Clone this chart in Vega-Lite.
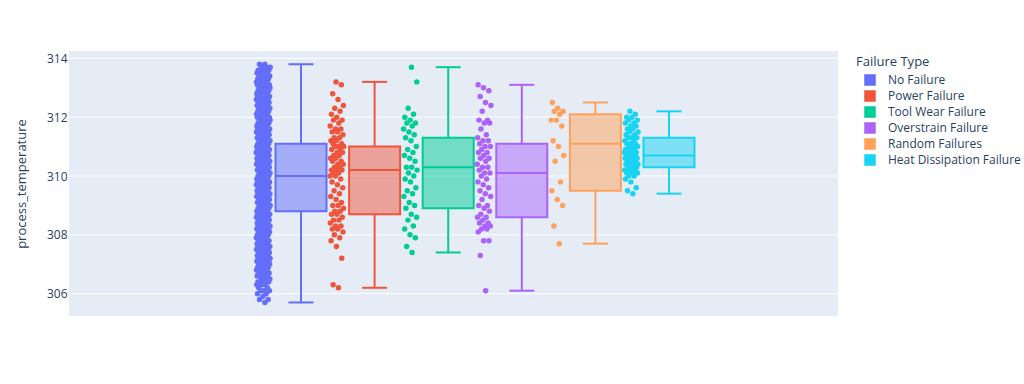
{
"$schema":"https://vega.github.io/schema/vega-lite/v6.json",
"width":769,"height":265,"autosize":"none",
"padding":{"left":69,"top":51,"right":186,"bottom":68},
"background":"white",
"config":{"view":{"fill":"#E5ECF6","stroke":null},"font":"Open Sans",
"axis":{"labelColor":"#2a3f5f","titleColor":"#2a3f5f","labelFontSize":12,"titleFontSize":13,"titleFontWeight":"normal"},
"legend":{"labelColor":"#2a3f5f","titleColor":"#2a3f5f","labelFontSize":12,"titleFontSize":13,"titleFontWeight":"normal"}},
"datasets":{
"grid":[{"tick":306},{"tick":308},{"tick":310},{"tick":312},{"tick":314}],
"box":[
{"type":"No Failure","lower":305.7,"q1":308.8,"median":310.0,"q3":311.1,"upper":313.8},
{"type":"Power Failure","lower":306.2,"q1":308.7,"median":310.2,"q3":311.0,"upper":313.2},
{"type":"Tool Wear Failure","lower":307.4,"q1":308.9,"median":310.3,"q3":311.3,"upper":313.7},
{"type":"Overstrain Failure","lower":306.1,"q1":308.6,"median":310.1,"q3":311.1,"upper":313.1},
{"type":"Random Failures","lower":307.7,"q1":309.5,"median":311.1,"q3":312.1,"upper":312.5},
{"type":"Heat Dissipation Failure","lower":309.4,"q1":310.3,"median":310.7,"q3":311.3,"upper":312.2}
],
"pts":[
{"type":"No Failure","temp":305.7},{"type":"No Failure","temp":305.8},{"type":"No Failure","temp":305.9},{"type":"No Failure","temp":306.0},{"type":"No Failure","temp":306.1},{"type":"No Failure","temp":306.2},{"type":"No Failure","temp":306.3},{"type":"No Failure","temp":306.4},{"type":"No Failure","temp":306.5},{"type":"No Failure","temp":306.6},{"type":"No Failure","temp":306.7},{"type":"No Failure","temp":306.8},{"type":"No Failure","temp":306.9},{"type":"No Failure","temp":307.0},{"type":"No Failure","temp":307.1},{"type":"No Failure","temp":307.2},{"type":"No Failure","temp":307.3},{"type":"No Failure","temp":307.4},{"type":"No Failure","temp":307.5},{"type":"No Failure","temp":307.6},{"type":"No Failure","temp":307.7},{"type":"No Failure","temp":307.8},{"type":"No Failure","temp":307.9},{"type":"No Failure","temp":308.0},{"type":"No Failure","temp":308.1},{"type":"No Failure","temp":308.2},{"type":"No Failure","temp":308.3},{"type":"No Failure","temp":308.4},{"type":"No Failure","temp":308.5},{"type":"No Failure","temp":308.6},{"type":"No Failure","temp":308.7},{"type":"No Failure","temp":308.8},{"type":"No Failure","temp":308.9},{"type":"No Failure","temp":309.0},{"type":"No Failure","temp":309.1},{"type":"No Failure","temp":309.2},{"type":"No Failure","temp":309.3},{"type":"No Failure","temp":309.4},{"type":"No Failure","temp":309.5},{"type":"No Failure","temp":309.6},{"type":"No Failure","temp":309.7},{"type":"No Failure","temp":309.8},{"type":"No Failure","temp":309.9},{"type":"No Failure","temp":310.0},{"type":"No Failure","temp":310.1},{"type":"No Failure","temp":310.2},{"type":"No Failure","temp":310.3},{"type":"No Failure","temp":310.4},{"type":"No Failure","temp":310.5},{"type":"No Failure","temp":310.6},{"type":"No Failure","temp":310.7},{"type":"No Failure","temp":310.8},{"type":"No Failure","temp":310.9},{"type":"No Failure","temp":311.0},{"type":"No Failure","temp":311.1},{"type":"No Failure","temp":311.2},{"type":"No Failure","temp":311.3},{"type":"No Failure","temp":311.4},{"type":"No Failure","temp":311.5},{"type":"No Failure","temp":311.6},{"type":"No Failure","temp":311.7},{"type":"No Failure","temp":311.8},{"type":"No Failure","temp":311.9},{"type":"No Failure","temp":312.0},{"type":"No Failure","temp":312.1},{"type":"No Failure","temp":312.2},{"type":"No Failure","temp":312.3},{"type":"No Failure","temp":312.4},{"type":"No Failure","temp":312.5},{"type":"No Failure","temp":312.6},{"type":"No Failure","temp":312.7},{"type":"No Failure","temp":312.8},{"type":"No Failure","temp":312.9},{"type":"No Failure","temp":313.0},{"type":"No Failure","temp":313.1},{"type":"No Failure","temp":313.2},{"type":"No Failure","temp":313.3},{"type":"No Failure","temp":313.4},{"type":"No Failure","temp":313.5},{"type":"No Failure","temp":313.6},{"type":"No Failure","temp":313.7},{"type":"No Failure","temp":313.8},
{"type":"No Failure","temp":305.8},{"type":"No Failure","temp":306.0},{"type":"No Failure","temp":306.1},{"type":"No Failure","temp":306.2},{"type":"No Failure","temp":306.3},{"type":"No Failure","temp":306.4},{"type":"No Failure","temp":306.5},{"type":"No Failure","temp":306.6},{"type":"No Failure","temp":306.7},{"type":"No Failure","temp":306.8},{"type":"No Failure","temp":306.9},{"type":"No Failure","temp":307.0},{"type":"No Failure","temp":307.1},{"type":"No Failure","temp":307.2},{"type":"No Failure","temp":307.3},{"type":"No Failure","temp":307.4},{"type":"No Failure","temp":307.5},{"type":"No Failure","temp":307.6},{"type":"No Failure","temp":307.7},{"type":"No Failure","temp":307.8},{"type":"No Failure","temp":307.9},{"type":"No Failure","temp":308.0},{"type":"No Failure","temp":308.1},{"type":"No Failure","temp":308.2},{"type":"No Failure","temp":308.3},{"type":"No Failure","temp":308.4},{"type":"No Failure","temp":308.5},{"type":"No Failure","temp":308.6},{"type":"No Failure","temp":308.7},{"type":"No Failure","temp":308.8},{"type":"No Failure","temp":308.9},{"type":"No Failure","temp":309.0},{"type":"No Failure","temp":309.1},{"type":"No Failure","temp":309.2},{"type":"No Failure","temp":309.3},{"type":"No Failure","temp":309.4},{"type":"No Failure","temp":309.5},{"type":"No Failure","temp":309.6},{"type":"No Failure","temp":309.7},{"type":"No Failure","temp":309.8},{"type":"No Failure","temp":309.9},{"type":"No Failure","temp":310.0},{"type":"No Failure","temp":310.1},{"type":"No Failure","temp":310.2},{"type":"No Failure","temp":310.3},{"type":"No Failure","temp":310.4},{"type":"No Failure","temp":310.5},{"type":"No Failure","temp":310.6},{"type":"No Failure","temp":310.7},{"type":"No Failure","temp":310.8},{"type":"No Failure","temp":310.9},{"type":"No Failure","temp":311.0},{"type":"No Failure","temp":311.1},{"type":"No Failure","temp":311.2},{"type":"No Failure","temp":311.3},{"type":"No Failure","temp":311.4},{"type":"No Failure","temp":311.5},{"type":"No Failure","temp":311.6},{"type":"No Failure","temp":311.7},{"type":"No Failure","temp":311.8},{"type":"No Failure","temp":311.9},{"type":"No Failure","temp":312.0},{"type":"No Failure","temp":312.1},{"type":"No Failure","temp":312.2},{"type":"No Failure","temp":312.3},{"type":"No Failure","temp":312.4},{"type":"No Failure","temp":312.5},{"type":"No Failure","temp":312.6},{"type":"No Failure","temp":312.7},{"type":"No Failure","temp":312.8},{"type":"No Failure","temp":312.9},{"type":"No Failure","temp":313.0},{"type":"No Failure","temp":313.1},{"type":"No Failure","temp":313.2},{"type":"No Failure","temp":313.3},{"type":"No Failure","temp":313.4},{"type":"No Failure","temp":313.5},{"type":"No Failure","temp":313.6},{"type":"No Failure","temp":313.7},{"type":"No Failure","temp":313.8},
{"type":"No Failure","temp":306.1},{"type":"No Failure","temp":306.3},{"type":"No Failure","temp":306.4},{"type":"No Failure","temp":306.5},{"type":"No Failure","temp":306.6},{"type":"No Failure","temp":306.7},{"type":"No Failure","temp":306.8},{"type":"No Failure","temp":306.9},{"type":"No Failure","temp":307.0},{"type":"No Failure","temp":307.1},{"type":"No Failure","temp":307.2},{"type":"No Failure","temp":307.3},{"type":"No Failure","temp":307.4},{"type":"No Failure","temp":307.5},{"type":"No Failure","temp":307.6},{"type":"No Failure","temp":307.7},{"type":"No Failure","temp":307.8},{"type":"No Failure","temp":307.9},{"type":"No Failure","temp":308.0},{"type":"No Failure","temp":308.1},{"type":"No Failure","temp":308.2},{"type":"No Failure","temp":308.3},{"type":"No Failure","temp":308.4},{"type":"No Failure","temp":308.5},{"type":"No Failure","temp":308.6},{"type":"No Failure","temp":308.7},{"type":"No Failure","temp":308.8},{"type":"No Failure","temp":308.9},{"type":"No Failure","temp":309.0},{"type":"No Failure","temp":309.1},{"type":"No Failure","temp":309.2},{"type":"No Failure","temp":309.3},{"type":"No Failure","temp":309.4},{"type":"No Failure","temp":309.5},{"type":"No Failure","temp":309.6},{"type":"No Failure","temp":309.7},{"type":"No Failure","temp":309.8},{"type":"No Failure","temp":309.9},{"type":"No Failure","temp":310.0},{"type":"No Failure","temp":310.1},{"type":"No Failure","temp":310.2},{"type":"No Failure","temp":310.3},{"type":"No Failure","temp":310.4},{"type":"No Failure","temp":310.5},{"type":"No Failure","temp":310.6},{"type":"No Failure","temp":310.7},{"type":"No Failure","temp":310.8},{"type":"No Failure","temp":310.9},{"type":"No Failure","temp":311.0},{"type":"No Failure","temp":311.1},{"type":"No Failure","temp":311.2},{"type":"No Failure","temp":311.3},{"type":"No Failure","temp":311.4},{"type":"No Failure","temp":311.5},{"type":"No Failure","temp":311.6},{"type":"No Failure","temp":311.7},{"type":"No Failure","temp":311.8},{"type":"No Failure","temp":311.9},{"type":"No Failure","temp":312.0},{"type":"No Failure","temp":312.1},{"type":"No Failure","temp":312.2},{"type":"No Failure","temp":312.3},{"type":"No Failure","temp":312.4},{"type":"No Failure","temp":312.5},{"type":"No Failure","temp":312.6},{"type":"No Failure","temp":312.7},{"type":"No Failure","temp":312.8},{"type":"No Failure","temp":312.9},{"type":"No Failure","temp":313.0},{"type":"No Failure","temp":313.1},{"type":"No Failure","temp":313.2},{"type":"No Failure","temp":313.3},{"type":"No Failure","temp":313.4},{"type":"No Failure","temp":313.5},{"type":"No Failure","temp":313.6},{"type":"No Failure","temp":313.7},
{"type":"No Failure","temp":306.3},{"type":"No Failure","temp":306.5},{"type":"No Failure","temp":306.6},{"type":"No Failure","temp":306.7},{"type":"No Failure","temp":306.8},{"type":"No Failure","temp":306.9},{"type":"No Failure","temp":307.0},{"type":"No Failure","temp":307.1},{"type":"No Failure","temp":307.2},{"type":"No Failure","temp":307.3},{"type":"No Failure","temp":307.4},{"type":"No Failure","temp":307.5},{"type":"No Failure","temp":307.6},{"type":"No Failure","temp":307.7},{"type":"No Failure","temp":307.8},{"type":"No Failure","temp":307.9},{"type":"No Failure","temp":308.0},{"type":"No Failure","temp":308.1},{"type":"No Failure","temp":308.2},{"type":"No Failure","temp":308.3},{"type":"No Failure","temp":308.4},{"type":"No Failure","temp":308.5},{"type":"No Failure","temp":308.6},{"type":"No Failure","temp":308.7},{"type":"No Failure","temp":308.8},{"type":"No Failure","temp":308.9},{"type":"No Failure","temp":309.0},{"type":"No Failure","temp":309.1},{"type":"No Failure","temp":309.2},{"type":"No Failure","temp":309.3},{"type":"No Failure","temp":309.4},{"type":"No Failure","temp":309.5},{"type":"No Failure","temp":309.6},{"type":"No Failure","temp":309.7},{"type":"No Failure","temp":309.8},{"type":"No Failure","temp":309.9},{"type":"No Failure","temp":310.0},{"type":"No Failure","temp":310.1},{"type":"No Failure","temp":310.2},{"type":"No Failure","temp":310.3},{"type":"No Failure","temp":310.4},{"type":"No Failure","temp":310.5},{"type":"No Failure","temp":310.6},{"type":"No Failure","temp":310.7},{"type":"No Failure","temp":310.8},{"type":"No Failure","temp":310.9},{"type":"No Failure","temp":311.0},{"type":"No Failure","temp":311.1},{"type":"No Failure","temp":311.2},{"type":"No Failure","temp":311.3},{"type":"No Failure","temp":311.4},{"type":"No Failure","temp":311.5},{"type":"No Failure","temp":311.6},{"type":"No Failure","temp":311.7},{"type":"No Failure","temp":311.8},{"type":"No Failure","temp":311.9},{"type":"No Failure","temp":312.0},{"type":"No Failure","temp":312.1},{"type":"No Failure","temp":312.2},{"type":"No Failure","temp":312.3},{"type":"No Failure","temp":312.4},{"type":"No Failure","temp":312.5},{"type":"No Failure","temp":312.6},{"type":"No Failure","temp":312.7},{"type":"No Failure","temp":312.8},{"type":"No Failure","temp":312.9},{"type":"No Failure","temp":313.0},{"type":"No Failure","temp":313.1},{"type":"No Failure","temp":313.2},{"type":"No Failure","temp":313.3},{"type":"No Failure","temp":313.4},{"type":"No Failure","temp":313.5},{"type":"No Failure","temp":313.6},
{"type":"No Failure","temp":306.7},{"type":"No Failure","temp":306.8},{"type":"No Failure","temp":306.9},{"type":"No Failure","temp":307.0},{"type":"No Failure","temp":307.1},{"type":"No Failure","temp":307.2},{"type":"No Failure","temp":307.3},{"type":"No Failure","temp":307.4},{"type":"No Failure","temp":307.5},{"type":"No Failure","temp":307.6},{"type":"No Failure","temp":307.7},{"type":"No Failure","temp":307.8},{"type":"No Failure","temp":307.9},{"type":"No Failure","temp":308.0},{"type":"No Failure","temp":308.1},{"type":"No Failure","temp":308.2},{"type":"No Failure","temp":308.3},{"type":"No Failure","temp":308.4},{"type":"No Failure","temp":308.5},{"type":"No Failure","temp":308.6},{"type":"No Failure","temp":308.7},{"type":"No Failure","temp":308.8},{"type":"No Failure","temp":308.9},{"type":"No Failure","temp":309.0},{"type":"No Failure","temp":309.1},{"type":"No Failure","temp":309.2},{"type":"No Failure","temp":309.3},{"type":"No Failure","temp":309.4},{"type":"No Failure","temp":309.5},{"type":"No Failure","temp":309.6},{"type":"No Failure","temp":309.7},{"type":"No Failure","temp":309.8},{"type":"No Failure","temp":309.9},{"type":"No Failure","temp":310.0},{"type":"No Failure","temp":310.1},{"type":"No Failure","temp":310.2},{"type":"No Failure","temp":310.3},{"type":"No Failure","temp":310.4},{"type":"No Failure","temp":310.5},{"type":"No Failure","temp":310.6},{"type":"No Failure","temp":310.7},{"type":"No Failure","temp":310.8},{"type":"No Failure","temp":310.9},{"type":"No Failure","temp":311.0},{"type":"No Failure","temp":311.1},{"type":"No Failure","temp":311.2},{"type":"No Failure","temp":311.3},{"type":"No Failure","temp":311.4},{"type":"No Failure","temp":311.5},{"type":"No Failure","temp":311.6},{"type":"No Failure","temp":311.7},{"type":"No Failure","temp":311.8},{"type":"No Failure","temp":311.9},{"type":"No Failure","temp":312.0},{"type":"No Failure","temp":312.1},{"type":"No Failure","temp":312.2},{"type":"No Failure","temp":312.3},{"type":"No Failure","temp":312.4},{"type":"No Failure","temp":312.5},{"type":"No Failure","temp":312.6},{"type":"No Failure","temp":312.7},{"type":"No Failure","temp":312.8},{"type":"No Failure","temp":312.9},{"type":"No Failure","temp":313.0},{"type":"No Failure","temp":313.1},{"type":"No Failure","temp":313.2},{"type":"No Failure","temp":313.3},{"type":"No Failure","temp":313.4},
{"type":"Power Failure","temp":313.2},{"type":"Power Failure","temp":313.1},{"type":"Power Failure","temp":312.8},{"type":"Power Failure","temp":312.6},{"type":"Power Failure","temp":312.4},{"type":"Power Failure","temp":312.3},{"type":"Power Failure","temp":312.2},{"type":"Power Failure","temp":312.1},{"type":"Power Failure","temp":312.0},{"type":"Power Failure","temp":311.9},{"type":"Power Failure","temp":311.9},{"type":"Power Failure","temp":311.8},{"type":"Power Failure","temp":311.7},{"type":"Power Failure","temp":311.6},{"type":"Power Failure","temp":311.6},{"type":"Power Failure","temp":311.5},{"type":"Power Failure","temp":311.5},{"type":"Power Failure","temp":311.4},{"type":"Power Failure","temp":311.3},{"type":"Power Failure","temp":311.3},{"type":"Power Failure","temp":311.2},{"type":"Power Failure","temp":311.2},{"type":"Power Failure","temp":311.1},{"type":"Power Failure","temp":311.1},{"type":"Power Failure","temp":311.0},{"type":"Power Failure","temp":311.0},{"type":"Power Failure","temp":311.0},{"type":"Power Failure","temp":310.9},{"type":"Power Failure","temp":310.9},{"type":"Power Failure","temp":310.8},{"type":"Power Failure","temp":310.8},{"type":"Power Failure","temp":310.7},{"type":"Power Failure","temp":310.7},{"type":"Power Failure","temp":310.6},{"type":"Power Failure","temp":310.6},{"type":"Power Failure","temp":310.5},{"type":"Power Failure","temp":310.5},{"type":"Power Failure","temp":310.4},{"type":"Power Failure","temp":310.4},{"type":"Power Failure","temp":310.3},{"type":"Power Failure","temp":310.3},{"type":"Power Failure","temp":310.2},{"type":"Power Failure","temp":310.2},{"type":"Power Failure","temp":310.2},{"type":"Power Failure","temp":310.1},{"type":"Power Failure","temp":310.1},{"type":"Power Failure","temp":310.0},{"type":"Power Failure","temp":310.0},{"type":"Power Failure","temp":309.9},{"type":"Power Failure","temp":309.8},{"type":"Power Failure","temp":309.7},{"type":"Power Failure","temp":309.6},{"type":"Power Failure","temp":309.5},{"type":"Power Failure","temp":309.4},{"type":"Power Failure","temp":309.3},{"type":"Power Failure","temp":309.2},{"type":"Power Failure","temp":309.1},{"type":"Power Failure","temp":309.0},{"type":"Power Failure","temp":309.0},{"type":"Power Failure","temp":308.9},{"type":"Power Failure","temp":308.8},{"type":"Power Failure","temp":308.8},{"type":"Power Failure","temp":308.7},{"type":"Power Failure","temp":308.7},{"type":"Power Failure","temp":308.6},{"type":"Power Failure","temp":308.5},{"type":"Power Failure","temp":308.5},{"type":"Power Failure","temp":308.4},{"type":"Power Failure","temp":308.3},{"type":"Power Failure","temp":308.3},{"type":"Power Failure","temp":308.2},{"type":"Power Failure","temp":308.2},{"type":"Power Failure","temp":308.1},{"type":"Power Failure","temp":308.0},{"type":"Power Failure","temp":307.9},{"type":"Power Failure","temp":307.8},{"type":"Power Failure","temp":307.6},{"type":"Power Failure","temp":307.2},{"type":"Power Failure","temp":306.3},{"type":"Power Failure","temp":306.2},
{"type":"Tool Wear Failure","temp":313.7},{"type":"Tool Wear Failure","temp":313.2},{"type":"Tool Wear Failure","temp":312.3},{"type":"Tool Wear Failure","temp":312.1},{"type":"Tool Wear Failure","temp":312.0},{"type":"Tool Wear Failure","temp":311.9},{"type":"Tool Wear Failure","temp":311.8},{"type":"Tool Wear Failure","temp":311.8},{"type":"Tool Wear Failure","temp":311.7},{"type":"Tool Wear Failure","temp":311.6},{"type":"Tool Wear Failure","temp":311.5},{"type":"Tool Wear Failure","temp":311.4},{"type":"Tool Wear Failure","temp":311.3},{"type":"Tool Wear Failure","temp":311.2},{"type":"Tool Wear Failure","temp":311.0},{"type":"Tool Wear Failure","temp":310.9},{"type":"Tool Wear Failure","temp":310.8},{"type":"Tool Wear Failure","temp":310.7},{"type":"Tool Wear Failure","temp":310.6},{"type":"Tool Wear Failure","temp":310.5},{"type":"Tool Wear Failure","temp":310.3},{"type":"Tool Wear Failure","temp":310.3},{"type":"Tool Wear Failure","temp":310.2},{"type":"Tool Wear Failure","temp":310.1},{"type":"Tool Wear Failure","temp":310.0},{"type":"Tool Wear Failure","temp":309.9},{"type":"Tool Wear Failure","temp":309.8},{"type":"Tool Wear Failure","temp":309.6},{"type":"Tool Wear Failure","temp":309.5},{"type":"Tool Wear Failure","temp":309.4},{"type":"Tool Wear Failure","temp":309.3},{"type":"Tool Wear Failure","temp":309.1},{"type":"Tool Wear Failure","temp":309.0},{"type":"Tool Wear Failure","temp":308.9},{"type":"Tool Wear Failure","temp":308.7},{"type":"Tool Wear Failure","temp":308.6},{"type":"Tool Wear Failure","temp":308.5},{"type":"Tool Wear Failure","temp":308.3},{"type":"Tool Wear Failure","temp":308.2},{"type":"Tool Wear Failure","temp":308.0},{"type":"Tool Wear Failure","temp":307.9},{"type":"Tool Wear Failure","temp":307.6},{"type":"Tool Wear Failure","temp":307.4},
{"type":"Overstrain Failure","temp":313.1},{"type":"Overstrain Failure","temp":313.0},{"type":"Overstrain Failure","temp":312.9},{"type":"Overstrain Failure","temp":312.7},{"type":"Overstrain Failure","temp":312.5},{"type":"Overstrain Failure","temp":312.4},{"type":"Overstrain Failure","temp":312.2},{"type":"Overstrain Failure","temp":311.9},{"type":"Overstrain Failure","temp":311.9},{"type":"Overstrain Failure","temp":311.8},{"type":"Overstrain Failure","temp":311.8},{"type":"Overstrain Failure","temp":311.6},{"type":"Overstrain Failure","temp":311.4},{"type":"Overstrain Failure","temp":311.3},{"type":"Overstrain Failure","temp":311.2},{"type":"Overstrain Failure","temp":311.2},{"type":"Overstrain Failure","temp":311.1},{"type":"Overstrain Failure","temp":311.0},{"type":"Overstrain Failure","temp":311.0},{"type":"Overstrain Failure","temp":310.9},{"type":"Overstrain Failure","temp":310.8},{"type":"Overstrain Failure","temp":310.8},{"type":"Overstrain Failure","temp":310.7},{"type":"Overstrain Failure","temp":310.6},{"type":"Overstrain Failure","temp":310.6},{"type":"Overstrain Failure","temp":310.5},{"type":"Overstrain Failure","temp":310.4},{"type":"Overstrain Failure","temp":310.3},{"type":"Overstrain Failure","temp":310.3},{"type":"Overstrain Failure","temp":310.2},{"type":"Overstrain Failure","temp":310.1},{"type":"Overstrain Failure","temp":310.1},{"type":"Overstrain Failure","temp":310.0},{"type":"Overstrain Failure","temp":309.9},{"type":"Overstrain Failure","temp":309.8},{"type":"Overstrain Failure","temp":309.7},{"type":"Overstrain Failure","temp":309.6},{"type":"Overstrain Failure","temp":309.5},{"type":"Overstrain Failure","temp":309.4},{"type":"Overstrain Failure","temp":309.3},{"type":"Overstrain Failure","temp":309.2},{"type":"Overstrain Failure","temp":309.0},{"type":"Overstrain Failure","temp":309.0},{"type":"Overstrain Failure","temp":308.9},{"type":"Overstrain Failure","temp":308.8},{"type":"Overstrain Failure","temp":308.7},{"type":"Overstrain Failure","temp":308.6},{"type":"Overstrain Failure","temp":308.6},{"type":"Overstrain Failure","temp":308.5},{"type":"Overstrain Failure","temp":308.4},{"type":"Overstrain Failure","temp":308.4},{"type":"Overstrain Failure","temp":308.3},{"type":"Overstrain Failure","temp":308.3},{"type":"Overstrain Failure","temp":308.2},{"type":"Overstrain Failure","temp":308.2},{"type":"Overstrain Failure","temp":308.1},{"type":"Overstrain Failure","temp":307.8},{"type":"Overstrain Failure","temp":307.8},{"type":"Overstrain Failure","temp":307.3},{"type":"Overstrain Failure","temp":306.1},
{"type":"Random Failures","temp":312.5},{"type":"Random Failures","temp":312.3},{"type":"Random Failures","temp":312.2},{"type":"Random Failures","temp":312.2},{"type":"Random Failures","temp":312.1},{"type":"Random Failures","temp":311.9},{"type":"Random Failures","temp":311.9},{"type":"Random Failures","temp":311.7},{"type":"Random Failures","temp":311.2},{"type":"Random Failures","temp":311.0},{"type":"Random Failures","temp":310.7},{"type":"Random Failures","temp":310.5},{"type":"Random Failures","temp":309.8},{"type":"Random Failures","temp":309.5},{"type":"Random Failures","temp":309.2},{"type":"Random Failures","temp":309.0},{"type":"Random Failures","temp":308.3},{"type":"Random Failures","temp":307.7},
{"type":"Heat Dissipation Failure","temp":312.2},{"type":"Heat Dissipation Failure","temp":312.1},{"type":"Heat Dissipation Failure","temp":312.0},{"type":"Heat Dissipation Failure","temp":312.0},{"type":"Heat Dissipation Failure","temp":311.9},{"type":"Heat Dissipation Failure","temp":311.9},{"type":"Heat Dissipation Failure","temp":311.8},{"type":"Heat Dissipation Failure","temp":311.8},{"type":"Heat Dissipation Failure","temp":311.7},{"type":"Heat Dissipation Failure","temp":311.7},{"type":"Heat Dissipation Failure","temp":311.6},{"type":"Heat Dissipation Failure","temp":311.6},{"type":"Heat Dissipation Failure","temp":311.5},{"type":"Heat Dissipation Failure","temp":311.5},{"type":"Heat Dissipation Failure","temp":311.4},{"type":"Heat Dissipation Failure","temp":311.4},{"type":"Heat Dissipation Failure","temp":311.3},{"type":"Heat Dissipation Failure","temp":311.3},{"type":"Heat Dissipation Failure","temp":311.3},{"type":"Heat Dissipation Failure","temp":311.2},{"type":"Heat Dissipation Failure","temp":311.2},{"type":"Heat Dissipation Failure","temp":311.1},{"type":"Heat Dissipation Failure","temp":311.1},{"type":"Heat Dissipation Failure","temp":311.1},{"type":"Heat Dissipation Failure","temp":311.0},{"type":"Heat Dissipation Failure","temp":311.0},{"type":"Heat Dissipation Failure","temp":311.0},{"type":"Heat Dissipation Failure","temp":310.9},{"type":"Heat Dissipation Failure","temp":310.9},{"type":"Heat Dissipation Failure","temp":310.9},{"type":"Heat Dissipation Failure","temp":310.8},{"type":"Heat Dissipation Failure","temp":310.8},{"type":"Heat Dissipation Failure","temp":310.8},{"type":"Heat Dissipation Failure","temp":310.8},{"type":"Heat Dissipation Failure","temp":310.7},{"type":"Heat Dissipation Failure","temp":310.7},{"type":"Heat Dissipation Failure","temp":310.7},{"type":"Heat Dissipation Failure","temp":310.7},{"type":"Heat Dissipation Failure","temp":310.6},{"type":"Heat Dissipation Failure","temp":310.6},{"type":"Heat Dissipation Failure","temp":310.6},{"type":"Heat Dissipation Failure","temp":310.6},{"type":"Heat Dissipation Failure","temp":310.5},{"type":"Heat Dissipation Failure","temp":310.5},{"type":"Heat Dissipation Failure","temp":310.5},{"type":"Heat Dissipation Failure","temp":310.5},{"type":"Heat Dissipation Failure","temp":310.4},{"type":"Heat Dissipation Failure","temp":310.4},{"type":"Heat Dissipation Failure","temp":310.4},{"type":"Heat Dissipation Failure","temp":310.4},{"type":"Heat Dissipation Failure","temp":310.3},{"type":"Heat Dissipation Failure","temp":310.3},{"type":"Heat Dissipation Failure","temp":310.3},{"type":"Heat Dissipation Failure","temp":310.3},{"type":"Heat Dissipation Failure","temp":310.2},{"type":"Heat Dissipation Failure","temp":310.2},{"type":"Heat Dissipation Failure","temp":310.2},{"type":"Heat Dissipation Failure","temp":310.1},{"type":"Heat Dissipation Failure","temp":310.1},{"type":"Heat Dissipation Failure","temp":310.1},{"type":"Heat Dissipation Failure","temp":310.0},{"type":"Heat Dissipation Failure","temp":310.0},{"type":"Heat Dissipation Failure","temp":309.9},{"type":"Heat Dissipation Failure","temp":309.8},{"type":"Heat Dissipation Failure","temp":309.6},{"type":"Heat Dissipation Failure","temp":309.5},{"type":"Heat Dissipation Failure","temp":309.4}
]},
"layer":[
{"data":{"name":"grid"},"mark":{"type":"rule","color":"white","strokeWidth":1},
"encoding":{"y":{"field":"tick","type":"quantitative","scale":{"domain":[305.24,314.25],"nice":false,"zero":false},
"axis":{"title":"process_temperature","values":[306,308,310,312,314],"grid":false,"domain":false,"ticks":false,"labelPadding":2,"titlePadding":18}}}},
{"data":{"name":"pts"},
"transform":[{"window":[{"op":"row_number","as":"rn"}],"groupby":["type"],"sort":[{"field":"temp"}]},{"calculate":"(datum.rn*0.6180339887)%1","as":"jit"}],
"mark":{"type":"circle","size":30,"opacity":1},
"encoding":{
"x":{"field":"type","type":"nominal","axis":null,"scale":{"domain":["No Failure","Power Failure","Tool Wear Failure","Overstrain Failure","Random Failures","Heat Dissipation Failure"],"paddingInner":0,"paddingOuter":0,"rangeMin":176.2,"rangeMax":617.8}},
"xOffset":{"field":"jit","type":"quantitative","scale":{"domain":[0,1],"range":[11,25]}},
"y":{"field":"temp","type":"quantitative"},
"color":{"field":"type","type":"nominal","scale":{"domain":["No Failure","Power Failure","Tool Wear Failure","Overstrain Failure","Random Failures","Heat Dissipation Failure"],"range":["#636efa","#EF553B","#00cc96","#ab63fa","#FFA15A","#19d3f3"]},
"legend":{"title":"Failure Type","orient":"none","legendX":787,"legendY":5,"padding":0,"symbolType":"square","symbolSize":100,"symbolOffset":8,"labelOffset":12,"rowPadding":0,"titlePadding":5,
"encode":{"symbols":{"update":{"fillOpacity":{"value":0.5},"stroke":{"scale":"color","field":"value"},"strokeWidth":{"value":2},"opacity":{"value":1}}}}}}}},
{"data":{"name":"box"},"mark":{"type":"rule","strokeWidth":2,"xOffset":19,"opacity":1},"encoding":{"x":{"field":"type","type":"nominal"},"color":{"field":"type","type":"nominal"},"y":{"field":"lower","type":"quantitative"},"y2":{"field":"q1"}}},
{"data":{"name":"box"},"mark":{"type":"rule","strokeWidth":2,"xOffset":19,"opacity":1},"encoding":{"x":{"field":"type","type":"nominal"},"color":{"field":"type","type":"nominal"},"y":{"field":"q3","type":"quantitative"},"y2":{"field":"upper"}}},
{"data":{"name":"box"},"mark":{"type":"bar","width":51,"xOffset":19,"opacity":1,"fillOpacity":0.5,"strokeWidth":2},
"encoding":{"x":{"field":"type","type":"nominal"},"color":{"field":"type","type":"nominal"},"y":{"field":"q1","type":"quantitative"},"y2":{"field":"q3"},
"stroke":{"field":"type","type":"nominal","legend":null,"scale":{"domain":["No Failure","Power Failure","Tool Wear Failure","Overstrain Failure","Random Failures","Heat Dissipation Failure"],"range":["#636efa","#EF553B","#00cc96","#ab63fa","#FFA15A","#19d3f3"]}}}},
{"data":{"name":"box"},"mark":{"type":"tick","size":51,"thickness":2,"xOffset":19,"opacity":1},"encoding":{"x":{"field":"type","type":"nominal"},"color":{"field":"type","type":"nominal"},"y":{"field":"median","type":"quantitative"}}},
{"data":{"name":"box"},"mark":{"type":"tick","size":25,"thickness":2,"xOffset":19,"opacity":1},"encoding":{"x":{"field":"type","type":"nominal"},"color":{"field":"type","type":"nominal"},"y":{"field":"upper","type":"quantitative"}}},
{"data":{"name":"box"},"mark":{"type":"tick","size":25,"thickness":2,"xOffset":19,"opacity":1},"encoding":{"x":{"field":"type","type":"nominal"},"color":{"field":"type","type":"nominal"},"y":{"field":"lower","type":"quantitative"}}}
]
}
